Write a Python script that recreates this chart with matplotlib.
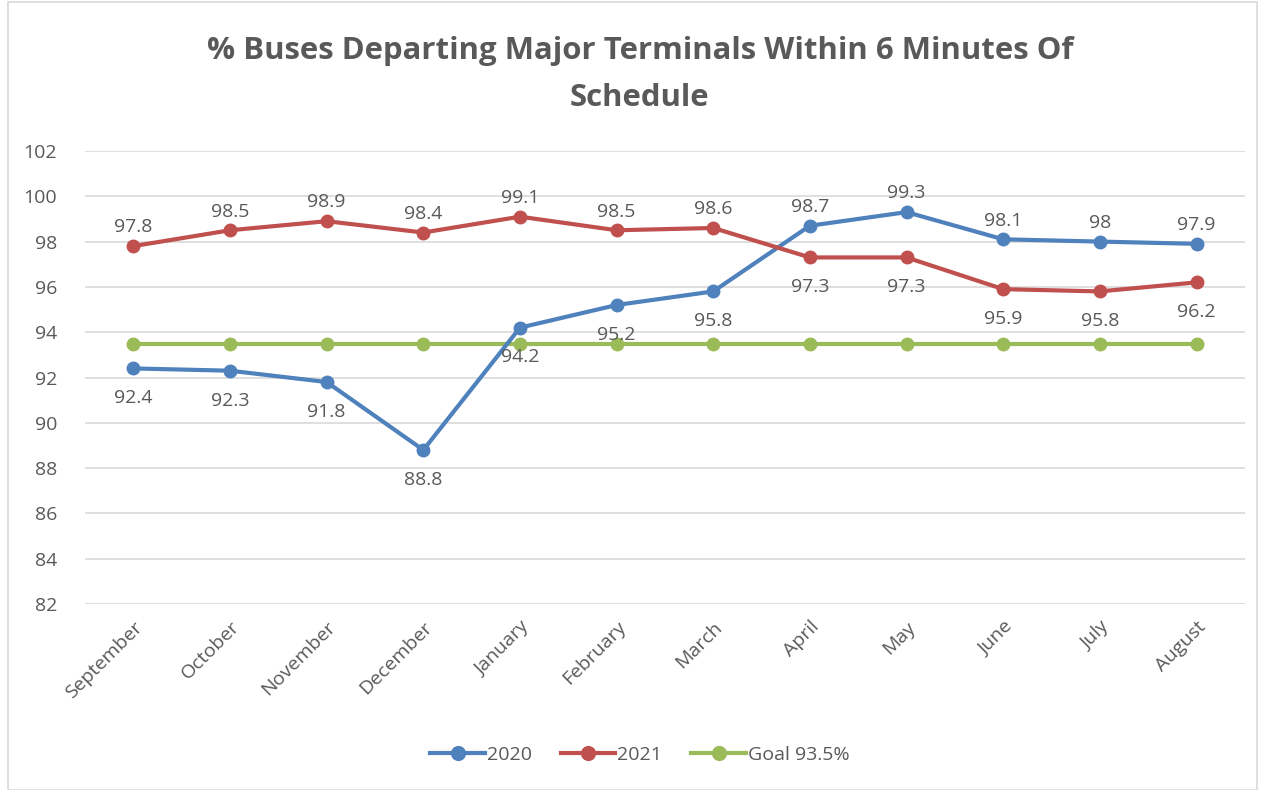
import matplotlib.pyplot as plt
from matplotlib.patches import Rectangle

plt.rcParams['font.family'] = ['Open Sans', 'DejaVu Sans']

months = ['September', 'October', 'November', 'December', 'January', 'February',
          'March', 'April', 'May', 'June', 'July', 'August']
y2020 = [92.4, 92.3, 91.8, 88.8, 94.2, 95.2, 95.8, 98.7, 99.3, 98.1, 98.0, 97.9]
y2021 = [97.8, 98.5, 98.9, 98.4, 99.1, 98.5, 98.6, 97.3, 97.3, 95.9, 95.8, 96.2]
goal = [93.5] * 12
# label placement: True = above the point
above2020 = [False] * 7 + [True] * 5
above2021 = [True] * 7 + [False] * 5

text_col = '#595959'
c2020 = '#4F81BD'
c2021 = '#C0504D'
cgoal = '#9BBB59'

fig = plt.figure(figsize=(12.62, 7.90), dpi=100)
ax = fig.add_axes([0.0674, 0.2354, 0.919, 0.5735])

x = range(len(months))
ax.plot(x, y2020, color=c2020, lw=3, marker='o', ms=9, label='2020', zorder=3)
ax.plot(x, y2021, color=c2021, lw=3, marker='o', ms=9, label='2021', zorder=3)
ax.plot(x, goal, color=cgoal, lw=3, marker='o', ms=9, label='Goal 93.5%', zorder=2)

for vals, ups in [(y2020, above2020), (y2021, above2021)]:
    for i, (v, up) in enumerate(zip(vals, ups)):
        txt = f'{v:g}'
        if up:
            ax.annotate(txt, (i, v), xytext=(0, 7), textcoords='offset points',
                        ha='center', va='bottom', fontsize=14, color=text_col)
        else:
            ax.annotate(txt, (i, v), xytext=(0, -15), textcoords='offset points',
                        ha='center', va='top', fontsize=14, color=text_col)

ax.set_xlim(-0.5, len(months) - 0.5)
ax.set_ylim(82, 102)
ax.set_yticks(range(82, 103, 2))
ax.set_xticks(list(x))
ax.set_xticklabels(months, rotation=45, ha='right', rotation_mode='anchor')
ax.tick_params(axis='both', length=0, labelsize=14, labelcolor=text_col)
ax.tick_params(axis='y', pad=20)
ax.tick_params(axis='x', pad=10)
ax.grid(axis='y', color='#D9D9D9', lw=1.2)
ax.set_axisbelow(True)
for s in ax.spines.values():
    s.set_visible(False)

fig.text(0.507, 0.906, '% Buses Departing Major Terminals Within 6 Minutes Of\nSchedule',
         ha='center', va='center', fontsize=22.4, fontweight='bold', color=text_col,
         linespacing=1.75)

fig.legend(loc='center', bbox_to_anchor=(0.507, 0.044), ncol=3, frameon=False,
           fontsize=14, labelcolor=text_col, handlelength=2.8, columnspacing=1.5,
           handletextpad=0.1, markerscale=1.1)

fig.patches.append(Rectangle((0.006, 0.0), 0.99, 0.998, transform=fig.transFigure,
                             fill=False, edgecolor='#D9D9D9', lw=1.2))

fig.savefig('out.png', dpi=100)
